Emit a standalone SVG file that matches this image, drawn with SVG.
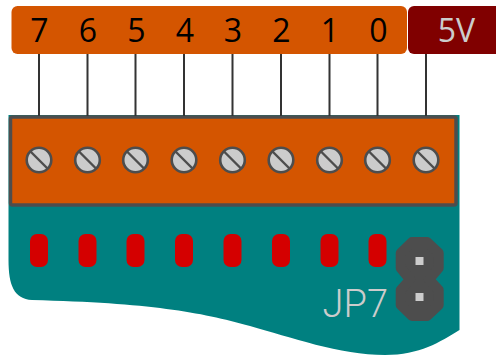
<svg xmlns="http://www.w3.org/2000/svg" width="496" height="356" viewBox="0 0 496 356">
<defs>
<style>
.t{font-family:"Open Sans","Noto Sans",sans-serif;font-size:32px;text-anchor:middle}
.w{stroke:#333;stroke-width:2;fill:none}
.s{fill:#ccc;stroke:#4d4d4d;stroke-width:2.6}
.sl{stroke:#4d4d4d;stroke-width:2.4;fill:none}
.l{fill:#d40000}
</style>
<g id="screw"><circle class="s" r="12.3"/><path class="sl" d="M-8.500-8.500L8.500 8.500"/></g>
<rect id="led" class="l" x="-9" y="-16.500" width="18" height="33" rx="7"/>
</defs>
<g id="board">
<path d="M8.500 115H459.500V330C440 342 420 355 385 355C340 355 290 337 250 326C200 312 150 303 32 300C14 299 8.500 285 8.500 260Z" fill="#008080"/>
<rect x="10.500" y="117" width="445.500" height="88" rx="2" fill="#d45500" stroke="#4d4d4d" stroke-width="3.500"/>
</g>
<g id="connectors">
<path class="w" d="M39 54V116M87.500 54V116M135.500 54V116M184 54V116M232.500 54V116M281 54V116M329.500 54V116M377.500 54V116M426 54V116"/>
</g>
<g id="header">
<rect x="11.500" y="6" width="395.500" height="48" rx="6" fill="#d45500"/>
<text class="t" x="39.500" y="42">7</text>
<text class="t" x="88" y="42">6</text>
<text class="t" x="136.500" y="42">5</text>
<text class="t" x="185" y="42">4</text>
<text class="t" x="233" y="42">3</text>
<text class="t" x="281.500" y="42">2</text>
<text class="t" x="330" y="42">1</text>
<text class="t" x="378.500" y="42">0</text>
</g>
<g id="power">
<path d="M414 6H496V54H414A6 6 0 0 1 408 48V12A6 6 0 0 1 414 6Z" fill="#800000"/>
<text class="t" x="456.500" y="42" fill="#ccc">5V</text>
</g>
<g id="screws">
<use href="#screw" x="39" y="160"/><use href="#screw" x="87.500" y="160"/><use href="#screw" x="135.500" y="160"/><use href="#screw" x="184" y="160"/><use href="#screw" x="232.500" y="160"/><use href="#screw" x="281" y="160"/><use href="#screw" x="329.500" y="160"/><use href="#screw" x="377.500" y="160"/><use href="#screw" x="426" y="160"/>
</g>
<g id="leds">
<use href="#led" x="39" y="250.500"/><use href="#led" x="87.500" y="250.500"/><use href="#led" x="135.500" y="250.500"/><use href="#led" x="184" y="250.500"/><use href="#led" x="232.500" y="250.500"/><use href="#led" x="281" y="250.500"/><use href="#led" x="329.500" y="250.500"/><use href="#led" x="377.500" y="250.500"/>
</g>
<g id="jp7">
<path d="M412 242H427L438.700 253V268L429 279.500L438.700 290V305L427 316H412L400.700 305V290L410 279.500L400.700 268V253Z" fill="#4d4d4d" stroke="#4d4d4d" stroke-width="10" stroke-linejoin="round"/>
<rect x="415.500" y="257" width="8" height="8" fill="#ccc"/>
<rect x="415.500" y="293" width="8" height="8" fill="#ccc"/>
<text x="388" y="316.500" fill="#ccc" text-anchor="end" style="font-family:Roboto,'Open Sans',sans-serif;font-size:38px;font-weight:300">JP7</text>
</g>
</svg>
